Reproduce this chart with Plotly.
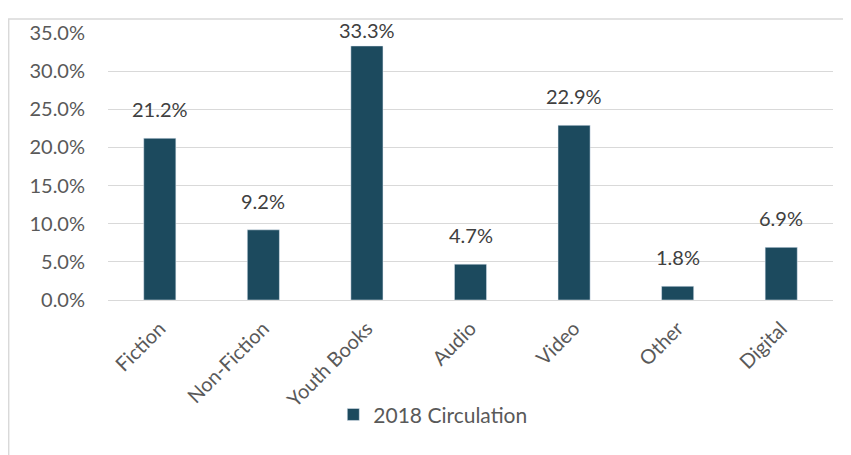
import plotly.graph_objects as go

categories = ["Fiction", "Non-Fiction", "Youth Books", "Audio", "Video", "Other", "Digital"]
values = [0.212, 0.092, 0.333, 0.047, 0.229, 0.018, 0.069]
series_name = "2018 Circulation"
y_ticks = [0, 0.05, 0.10, 0.15, 0.20, 0.25, 0.30, 0.35]

BAR = "#1C4A5E"
TXT = "#595959"
FONT = "Lato, Carlito, Calibri, sans-serif"

fig = go.Figure()
fig.add_trace(go.Bar(x=categories, y=values, name=series_name, marker_color=BAR,
                     showlegend=True))

for c, v in zip(categories, values):
    # keep labels inside the chart area when the bar is near the top
    shift = 15 if v < 0.30 else 2
    fig.add_annotation(x=c, y=v, text=f"{v*100:.1f}%", showarrow=False,
                       yanchor="bottom", yshift=shift,
                       font=dict(family=FONT, size=20, color="#404040"))

# page body adds an 8px margin; the figure is sized to fit the window
fig.update_layout(
    width=843, height=447,
    margin=dict(l=100, r=18, t=15, b=155),
    paper_bgcolor="white", plot_bgcolor="white",
    bargap=0.69,
    font=dict(family=FONT, size=20, color=TXT),
    xaxis=dict(tickangle=-45, showgrid=False, showline=True, linecolor="#D9D9D9",
               linewidth=1, ticks="", ticklabelstandoff=8,
               tickfont=dict(size=20, color=TXT)),
    yaxis=dict(range=[0, 0.35], tickvals=y_ticks, tickformat=".1%",
               showgrid=True, gridcolor="#D9D9D9", gridwidth=1, zeroline=False,
               ticks="", ticklabelstandoff=22, tickfont=dict(size=20, color=TXT)),
    legend=dict(orientation="h", x=0.448, xanchor="center", y=-0.43, yanchor="middle",
                font=dict(size=21, color=TXT), itemwidth=30),
)
fig.add_shape(type="rect", xref="paper", yref="paper", x0=-0.137, x1=1.2,
              y0=-0.8, y1=1.052, line=dict(color="#D9D9D9", width=1.5),
              fillcolor="rgba(0,0,0,0)", layer="below")

fig.write_html("out.html")
